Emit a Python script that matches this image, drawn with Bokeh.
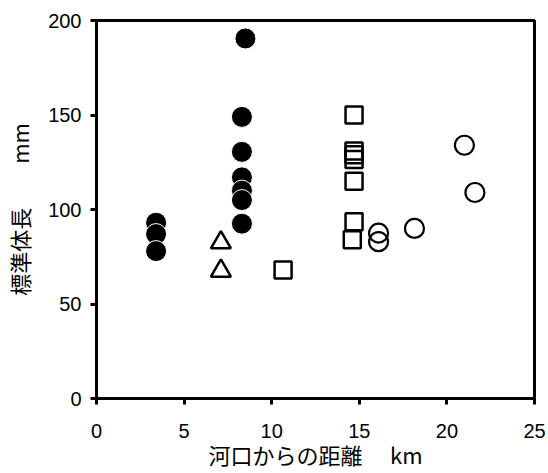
from bokeh.plotting import figure
from bokeh.models import Range1d, FixedTicker
from bokeh.embed import file_html
from bokeh.resources import INLINE

# Data
x_ticks = [0, 5, 10, 15, 20, 25]
y_ticks = [0, 50, 100, 150, 200]

filled_x = [3.4, 3.4, 3.4, 8.5, 8.3, 8.3, 8.3, 8.3, 8.3, 8.3]
filled_y = [93, 87, 78, 190.5, 149, 130.5, 117, 110, 105, 92.5]

tri_x = [7.1, 7.1]
tri_y = [82.5, 67.5]

sq_x = [10.65, 14.7, 14.7, 14.7, 14.7, 14.7, 14.7, 14.6]
sq_y = [68, 150, 131, 129, 126.5, 115, 93.5, 84]

circ_x = [16.1, 16.1, 18.15, 21.0, 21.6]
circ_y = [87.5, 83, 90, 134, 109]

x_title = "河口からの距離　\u2005km"
y_title = "標準体長　　mm"

p = figure(width=546, height=472, output_backend="svg", toolbar_location=None,
           x_range=Range1d(0, 25), y_range=Range1d(0, 200),
           min_border_left=96, min_border_right=12, min_border_top=20, min_border_bottom=74)

p.xgrid.visible = False
p.ygrid.visible = False
p.background_fill_color = "white"
p.border_fill_color = "white"
p.outline_line_color = "black"
p.outline_line_width = 3

for ax in (p.xaxis[0], p.yaxis[0]):
    ax.axis_line_width = 3
    ax.axis_line_color = "black"
    ax.major_tick_line_width = 3
    ax.major_tick_out = 6
    ax.major_tick_in = 0
    ax.minor_tick_line_color = None
    ax.major_label_text_font = "Liberation Sans"
    ax.major_label_text_font_size = "20px"
    ax.major_label_text_color = "black"
    ax.axis_label_text_font = "Noto Sans CJK JP"
    ax.axis_label_text_font_size = "22px"
    ax.axis_label_text_font_style = "normal"
    ax.axis_label_text_color = "black"

p.xaxis.ticker = FixedTicker(ticks=x_ticks)
p.yaxis.ticker = FixedTicker(ticks=y_ticks)
p.xaxis.major_label_standoff = 19
p.yaxis.major_label_standoff = 9
p.xaxis.axis_label = x_title
p.yaxis.axis_label = y_title
p.xaxis.axis_label_standoff = -3
p.yaxis.axis_label_standoff = 10

p.scatter(sq_x, sq_y, marker="square", size=17, fill_color=None,
          line_color="black", line_width=2.5)
p.scatter(tri_x, tri_y, marker="triangle", size=20, fill_color=None,
          line_color="black", line_width=2.5)
p.scatter(circ_x, circ_y, marker="circle", size=19, fill_color=None,
          line_color="black", line_width=2.2)
p.scatter(filled_x, filled_y, marker="circle", size=21, fill_color="black",
          line_color="white", line_width=1)

open("out.html", "w").write(file_html(p, INLINE))
